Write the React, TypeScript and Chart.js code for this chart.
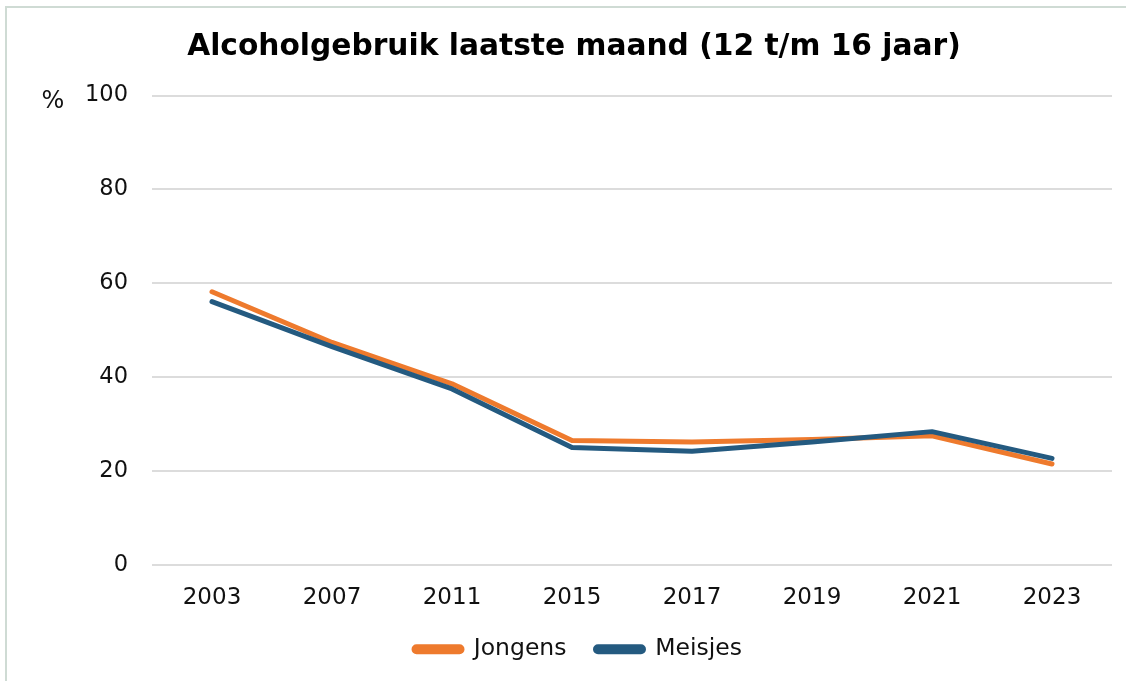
import React, { useEffect, useRef } from "react";
import { Chart, registerables } from "chart.js";

Chart.register(...registerables);

const TITLE = "Alcoholgebruik laatste maand (12 t/m 16 jaar)";
const UNIT_LABEL = "%";
const YEARS = ["2003", "2007", "2011", "2015", "2017", "2019", "2021", "2023"];
const JONGENS = [58.2, 47.4, 38.6, 26.5, 26.2, 26.7, 27.5, 21.5];
const MEISJES = [56.1, 46.5, 37.5, 25.0, 24.2, 26.2, 28.4, 22.7];
const Y_MIN = 0;
const Y_MAX = 100;
const Y_STEP = 20;

const FONT = "'DejaVu Sans', Verdana, sans-serif";
const ORANGE = "#EE7A2D";
const BLUE = "#245A80";

const unitPlugin = {
  id: "unitLabel",
  afterDraw(chart: any) {
    const { ctx } = chart;
    const y = chart.scales.y.getPixelForValue(Y_MAX);
    ctx.save();
    ctx.font = `24px ${FONT}`;
    ctx.fillStyle = "#111";
    ctx.textAlign = "center";
    ctx.textBaseline = "middle";
    ctx.fillText(UNIT_LABEL, 53, y + 6);
    ctx.restore();
  },
};

// nudges the legend closer to the x-axis labels and slightly right
const legendShiftPlugin = {
  id: "legendShift",
  afterLayout(chart: any) {
    const lg = chart.legend;
    if (!lg) return;
    lg.top -= 22;
    lg.bottom -= 22;
    lg.left += 4;
    lg.right += 4;
  },
};

export default function App() {
  const ref = useRef<HTMLCanvasElement | null>(null);

  useEffect(() => {
    if (!ref.current) return;
    const chart = new Chart(ref.current, {
      type: "line",
      data: {
        labels: YEARS,
        datasets: [
          {
            label: "Jongens",
            data: JONGENS,
            borderColor: ORANGE,
            backgroundColor: ORANGE,
            borderWidth: 5,
            pointRadius: 0,
            borderCapStyle: "round",
            borderJoinStyle: "round",
            tension: 0,
            order: 1,
          },
          {
            label: "Meisjes",
            data: MEISJES,
            borderColor: BLUE,
            backgroundColor: BLUE,
            borderWidth: 5,
            pointRadius: 0,
            borderCapStyle: "round",
            borderJoinStyle: "round",
            tension: 0,
            order: 0,
          },
        ],
      },
      options: {
        animation: false,
        responsive: false,
        maintainAspectRatio: false,
        layout: { padding: { top: 13, left: 36, right: 14, bottom: 11 } },
        plugins: {
          title: {
            display: true,
            text: TITLE,
            color: "#000",
            font: { family: FONT, size: 29.7, weight: "bold" },
            padding: { top: 16, bottom: 31 },
          },
          legend: {
            display: true,
            position: "bottom",
            labels: {
              sort: (a: any, b: any) => a.datasetIndex - b.datasetIndex,
              boxWidth: 48,
              boxHeight: 5,
              useBorderRadius: true,
              borderRadius: 2.5,
              padding: 29,
              color: "#111",
              font: { family: FONT, size: 23.5 },
            },
          },
          tooltip: { enabled: false },
        },
        scales: {
          x: {
            offset: true,
            grid: { display: false, drawTicks: false },
            border: { display: false },
            ticks: {
              color: "#111",
              padding: 19,
              font: { family: FONT, size: 23 },
              maxRotation: 0,
            },
          },
          y: {
            min: Y_MIN,
            max: Y_MAX,
            afterFit: (scale: any) => {
              scale.width = 116;
            },
            grid: { color: "#DCDCDC", lineWidth: 2, drawTicks: false },
            border: { display: false },
            ticks: {
              stepSize: Y_STEP,
              color: "#111",
              padding: 24,
              font: { family: FONT, size: 22.5 },
            },
          },
        },
      },
      plugins: [unitPlugin, legendShiftPlugin],
    });
    return () => chart.destroy();
  }, []);

  return (
    <div
      style={{
        position: "fixed",
        left: 0,
        top: 0,
        width: 1126,
        height: 681,
        background: "#fff",
        overflow: "hidden",
      }}
    >
      <div
        style={{
          position: "absolute",
          left: 5,
          top: 6,
          width: 1121,
          height: 675,
          boxSizing: "border-box",
          borderLeft: "2px solid #CFDBD4",
          borderTop: "2px solid #CFDBD4",
        }}
      />
      <canvas
        ref={ref}
        width={1126}
        height={704}
        style={{ position: "absolute", left: 0, top: 0, width: 1126, height: 704 }}
      />
    </div>
  );
}
